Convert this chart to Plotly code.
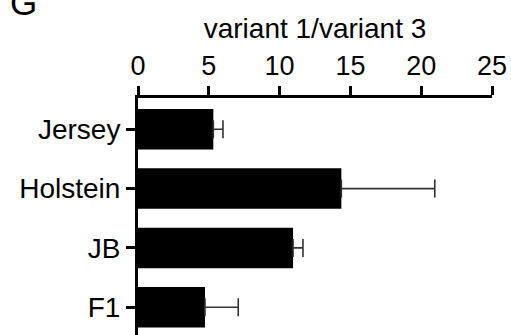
import plotly.graph_objects as go

categories = ["Jersey", "Holstein", "JB", "F1"]
values = [5.32, 14.36, 10.95, 4.73]
errors = [0.68, 6.6, 0.7, 2.35]
x_ticks = [0, 5, 10, 15, 20, 25]

FONT = "Liberation Sans, Arial, Helvetica, sans-serif"

fig = go.Figure()
fig.add_trace(go.Bar(
    y=categories, x=values, orientation="h",
    marker=dict(color="black", line=dict(width=0)),
    error_x=dict(type="data", array=errors, arrayminus=[0] * len(errors),
                 symmetric=False, color="#333333", thickness=1.6, width=9),
    width=0.683,
))

W, H = 511, 335
L, R, T, B = 138, 19, 98, 0
plot_h = H - T - B

fig.update_layout(
    width=W, height=H,
    margin=dict(l=L, r=R, t=T, b=B, pad=0),
    paper_bgcolor="white", plot_bgcolor="white",
    showlegend=False,
    font=dict(family=FONT, color="black", size=28),
    xaxis=dict(
        side="top", range=[0, 25], tickvals=x_ticks,
        ticktext=[str(v) for v in x_ticks],
        showgrid=False, zeroline=False,
        showline=True, linecolor="black", linewidth=3,
        ticks="outside", ticklen=9, tickwidth=2.5, tickcolor="black",
        tickfont=dict(size=27, family=FONT),
        title=dict(text="variant 1/variant 3", font=dict(size=28, family=FONT), standoff=5),
    ),
    yaxis=dict(
        type="category", categoryorder="array", categoryarray=categories,
        range=[3.469, -0.528],
        showgrid=False, zeroline=False,
        showline=True, linecolor="black", linewidth=3,
        ticks="outside", ticklen=9, tickwidth=2.5, tickcolor="black",
        tickfont=dict(size=28, family=FONT),
    ),
)

fig.add_annotation(
    text="G", xref="paper", yref="paper",
    x=(8 - L) / (W - L - R), y=1 + (T - 2) / plot_h,
    xanchor="left", yanchor="middle", showarrow=False,
    font=dict(size=35, family=FONT, color="black"),
)

fig.write_html("out.html", config={"displayModeBar": False},
               post_script="document.body.style.margin='0';")
